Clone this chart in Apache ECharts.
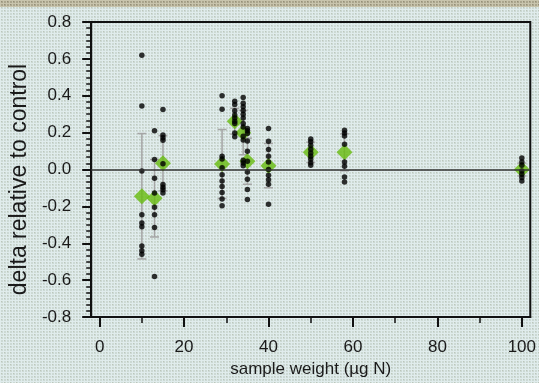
<!DOCTYPE html>
<html>
<head>
<meta charset="utf-8">
<script src="https://cdn.jsdelivr.net/npm/echarts@6/dist/echarts.min.js"></script>
<style>
  html, body {margin: 0; padding: 0;}
  #chart {width: 539px; height: 383px;}
</style>
</head>
<body>
<div id="chart"></div>
<script>
// sample weights (µg N) for each group
const weights = [10, 13, 15, 29, 32, 34, 35, 40, 50, 58, 100]
// group means (green diamonds) and standard deviations (grey bars)
const means = [-0.145, -0.156, 0.034, 0.03, 0.262, 0.2, 0.045, 0.021, 0.093, 0.093, 0.0]
const sds = [0.34, 0.21, 0.15, 0.187, 0.07, 0.12, 0.125, 0.12, 0.055, 0.1, 0.035]
// single replicates (black dots), one list per group
const reps10 = [0.62, 0.345, -0.008, -0.245, -0.29, -0.31, -0.415, -0.44, -0.46]
const reps13 = [0.21, 0.054, -0.047, -0.127, -0.205, -0.245, -0.314, -0.58]
const reps15 = [0.325, 0.187, 0.172, 0.158, 0.031, -0.082, -0.096, -0.11, -0.127]
const reps29 = [0.4, 0.327, 0.072, 0.057, 0.01, -0.028, -0.063, -0.092, -0.125, -0.16, -0.196]
const reps32 = [0.37, 0.353, 0.318, 0.296, 0.28, 0.262, 0.25, 0.198, 0.177]
const reps34 = [0.39, 0.36, 0.34, 0.32, 0.3, 0.28, 0.25, 0.23, 0.18, 0.16, 0.05, 0.035, 0.02]
const reps35 = [0.222, 0.21, 0.195, 0.155, 0.099, 0.045, -0.013, -0.053, -0.109, -0.163]
const reps40 = [0.222, 0.153, 0.108, 0.072, 0.041, 0.0, -0.031, -0.055, -0.08, -0.189]
const reps50 = [0.166, 0.15, 0.131, 0.11, 0.09, 0.072, 0.055, 0.037, 0.023]
const reps58 = [0.213, 0.198, 0.182, 0.137, 0.041, 0.017, -0.041, -0.068]
const reps100 = [0.063, 0.041, 0.023, -0.008, -0.026, -0.044, -0.063]
const replicates = [reps10, reps13, reps15, reps29, reps32, reps34, reps35, reps40, reps50, reps58, reps100]
const xMajorTicks = [0, 20, 40, 60, 80, 100]
const xMinorTicks = [10, 30, 50, 70, 90]

const FONT = '"Liberation Sans", Arial, sans-serif'

// small woven texture like the original slide background
function makeTex(base, light, dark) {
  const c = document.createElement('canvas')
  c.width = 6
  c.height = 6
  const ctx = c.getContext('2d')
  ctx.fillStyle = base
  ctx.fillRect(0, 0, 6, 6)
  ctx.fillStyle = light
  ctx.fillRect(0, 0, 6, 1)
  ctx.fillRect(0, 3, 6, 1)
  ctx.fillRect(0, 0, 1, 6)
  ctx.fillRect(3, 0, 1, 6)
  ctx.fillStyle = dark
  ctx.fillRect(1, 1, 1, 1)
  ctx.fillRect(4, 4, 1, 1)
  return c
}

const dots = []
replicates.forEach((list, i) => {
  list.forEach(v => dots.push([weights[i], v]))
})
const meanPts = weights.map((w, i) => [w, means[i]])
const errData = weights.map((w, i) => [w, means[i] - sds[i], means[i] + sds[i]])

const chart = echarts.init(document.getElementById('chart'))

chart.setOption({
  animation: false,
  backgroundColor: {image: makeTex('#ccd9d4', '#e0ecec', '#bcc6ba'), repeat: 'repeat'},
  graphic: [{
    type: 'rect',
    left: 0,
    top: 0,
    shape: {width: 539, height: 7},
    style: {fill: {image: makeTex('#aaa58d', '#c8c4ad', '#948e77'), repeat: 'repeat'}},
    silent: true,
  }],
  grid: {
    left: 90, right: 7, top: 22, bottom: 66,
    show: true, borderColor: '#111', borderWidth: 2, backgroundColor: 'transparent',
  },
  xAxis: [{
    type: 'value', min: -2, max: 102,
    name: 'sample weight (µg N)', nameLocation: 'middle', nameGap: 42,
    nameTextStyle: {fontFamily: FONT, fontSize: 17, color: '#1a1a1a'},
    axisLine: {show: true, onZero: false, lineStyle: {color: '#111', width: 2}},
    axisTick: {show: true, customValues: xMajorTicks, length: 10, lineStyle: {color: '#111', width: 2}},
    axisLabel: {customValues: xMajorTicks, margin: 22, fontFamily: FONT, fontSize: 17, color: '#1a1a1a'},
    splitLine: {show: false},
  }, {
    type: 'value', min: -2, max: 102, position: 'bottom',
    axisLine: {show: false, onZero: false},
    axisTick: {show: true, customValues: xMinorTicks, length: 6, lineStyle: {color: '#111', width: 1.5}},
    axisLabel: {show: false},
    splitLine: {show: false},
  }],
  yAxis: {
    type: 'value', min: -0.8, max: 0.8, interval: 0.2,
    name: 'delta relative to control', nameLocation: 'middle', nameGap: 55,
    nameTextStyle: {fontFamily: FONT, fontSize: 23, color: '#1a1a1a', padding: [0, 20, 0, 0]},
    axisLine: {show: true, onZero: false, lineStyle: {color: '#111', width: 2}},
    axisTick: {show: true, length: 9, lineStyle: {color: '#111', width: 2}},
    minorTick: {show: true, splitNumber: 6, length: 5, lineStyle: {color: '#111', width: 1.5}},
    axisLabel: {
      margin: 20, fontFamily: FONT, fontSize: 17, color: '#1a1a1a',
      formatter: v => v.toFixed(1),
    },
    splitLine: {show: false},
    minorSplitLine: {show: false},
  },
  series: [{
    type: 'custom',
    z: 1,
    data: errData,
    renderItem: (params, api) => {
      const x = api.coord([api.value(0), api.value(1)])[0]
      const yLo = api.coord([api.value(0), api.value(1)])[1]
      const yHi = api.coord([api.value(0), api.value(2)])[1]
      const style = {stroke: '#a5a5a5', lineWidth: 1.5}
      return {
        type: 'group',
        children: [
          {type: 'line', shape: {x1: x, y1: yLo, x2: x, y2: yHi}, style},
          {type: 'line', shape: {x1: x - 4.5, y1: yLo, x2: x + 4.5, y2: yLo}, style},
          {type: 'line', shape: {x1: x - 4.5, y1: yHi, x2: x + 4.5, y2: yHi}, style},
        ],
      }
    },
    markLine: {
      silent: true, symbol: 'none', label: {show: false},
      lineStyle: {color: '#333', width: 1.5, type: 'solid'},
      data: [{yAxis: 0}],
    },
  }, {
    type: 'scatter',
    z: 2,
    symbol: 'diamond',
    symbolSize: [16, 16],
    itemStyle: {color: '#66bb0e'},
    data: meanPts,
  }, {
    type: 'scatter',
    z: 3,
    symbol: 'circle',
    symbolSize: 5.5,
    itemStyle: {color: '#000'},
    data: dots,
  }],
})
</script>
</body>
</html>
